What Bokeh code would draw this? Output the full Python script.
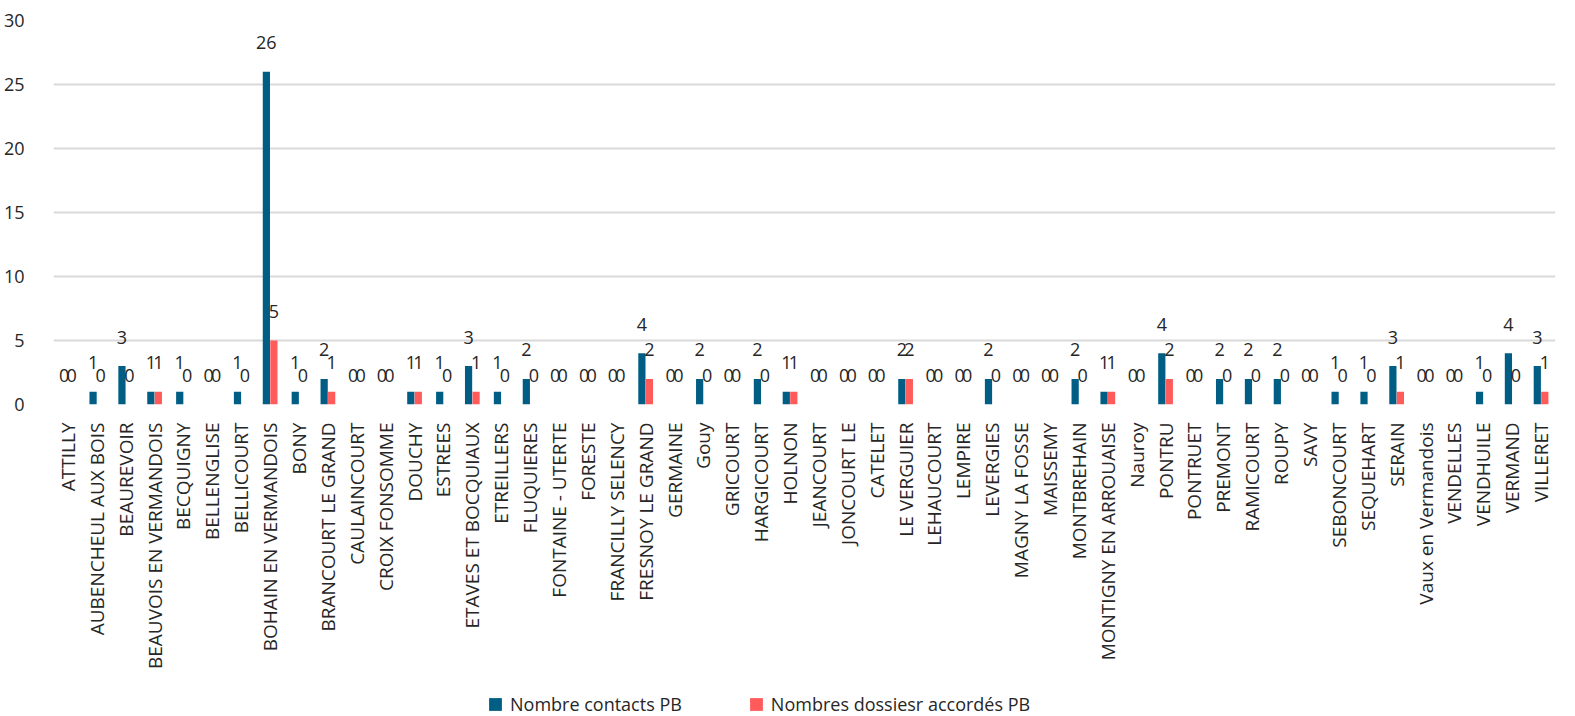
import math
from bokeh.plotting import figure
from bokeh.layouts import column
from bokeh.models import (ColumnDataSource, FactorRange, LabelSet, Legend,
                          LegendItem, FixedTicker)
from bokeh.transform import dodge
from bokeh.core.properties import value
from bokeh.embed import file_html
from bokeh.resources import INLINE

communes = [
    "ATTILLY", "AUBENCHEUL AUX BOIS", "BEAUREVOIR", "BEAUVOIS EN VERMANDOIS",
    "BECQUIGNY", "BELLENGLISE", "BELLICOURT", "BOHAIN EN VERMANDOIS", "BONY",
    "BRANCOURT LE GRAND", "CAULAINCOURT", "CROIX FONSOMME", "DOUCHY", "ESTREES",
    "ETAVES ET BOCQUIAUX", "ETREILLERS", "FLUQUIERES", "FONTAINE - UTERTE",
    "FORESTE", "FRANCILLY SELENCY", "FRESNOY LE GRAND", "GERMAINE", "Gouy",
    "GRICOURT", "HARGICOURT", "HOLNON", "JEANCOURT", "JONCOURT LE", "CATELET",
    "LE VERGUIER", "LEHAUCOURT", "LEMPIRE", "LEVERGIES", "MAGNY LA FOSSE",
    "MAISSEMY", "MONTBREHAIN", "MONTIGNY EN ARROUAISE", "Nauroy", "PONTRU",
    "PONTRUET", "PREMONT", "RAMICOURT", "ROUPY", "SAVY", "SEBONCOURT",
    "SEQUEHART", "SERAIN", "Vaux en Vermandois", "VENDELLES", "VENDHUILE",
    "VERMAND", "VILLERET",
]
contacts = [0, 1, 3, 1, 1, 0, 1, 26, 1, 2,
            0, 0, 1, 1, 3, 1, 2, 0, 0, 0,
            4, 0, 2, 0, 2, 1, 0, 0, 0, 2,
            0, 0, 2, 0, 0, 2, 1, 0, 4, 0,
            2, 2, 2, 0, 1, 1, 3, 0, 0, 1,
            4, 3]
dossiers = [0, 0, 0, 1, 0, 0, 0, 5, 0, 1,
            0, 0, 1, 0, 1, 0, 0, 0, 0, 0,
            2, 0, 0, 0, 0, 1, 0, 0, 0, 2,
            0, 0, 0, 0, 0, 0, 1, 0, 2, 0,
            0, 0, 0, 0, 0, 0, 1, 0, 0, 0,
            0, 1]
series_names = ["Nombre contacts PB", "Nombres dossiesr accordés PB"]
y_ticks = [0, 5, 10, 15, 20, 25, 30]

BLUE = "#005E85"
RED = "#FF5B5B"
TEXT = "#262626"
FONT = "Open Sans"

src = ColumnDataSource(dict(
    commune=communes,
    contacts=contacts,
    dossiers=dossiers,
    contacts_lbl=[str(v) for v in contacts],
    dossiers_lbl=[str(v) for v in dossiers],
))

p = figure(width=1559, height=688,
           x_range=FactorRange(*communes, range_padding=0),
           y_range=(0, 30),
           output_backend="svg", toolbar_location=None,
           min_border_top=20, min_border_left=46, min_border_right=4,
           min_border_bottom=284)
p.outline_line_color = None
p.background_fill_color = "white"

off = 0.13
r1 = p.vbar(x=dodge("commune", -off, range=p.x_range), top="contacts",
            width=0.25, source=src, fill_color=BLUE, line_color=None)
r2 = p.vbar(x=dodge("commune", off, range=p.x_range), top="dossiers",
            width=0.25, source=src, fill_color=RED, line_color=None)

for col, lbl, dx in (("contacts", "contacts_lbl", -off), ("dossiers", "dossiers_lbl", off)):
    ls = LabelSet(x=dodge("commune", dx, range=p.x_range), y=col, text=lbl,
                  source=src, y_offset=29, text_align="center",
                  text_baseline="middle", text_font=value(FONT),
                  text_font_size=value("18px"), text_color=TEXT)
    p.add_layout(ls)

# axes
p.yaxis.ticker = FixedTicker(ticks=y_ticks)
p.yaxis.axis_line_color = None
p.yaxis.major_tick_line_color = None
p.yaxis.minor_tick_line_color = None
p.yaxis.major_label_standoff = 23
p.yaxis.major_label_text_font = FONT
p.yaxis.major_label_text_font_size = "18px"
p.yaxis.major_label_text_color = TEXT

p.xaxis.axis_line_color = None
p.xaxis.major_tick_line_color = None
p.xaxis.major_label_orientation = math.pi / 2
p.xaxis.major_label_standoff = 12
p.xaxis.major_label_text_font = FONT
p.xaxis.major_label_text_font_size = "19px"
p.xaxis.major_label_text_color = TEXT

p.xgrid.grid_line_color = None
p.ygrid.grid_line_color = "#D9D9D9"
p.ygrid.grid_line_width = 2

# legend strip underneath the chart (hidden proxy renderers carry the colours)
lg = figure(width=1559, height=28, x_range=p.x_range, y_range=(0, 30),
            output_backend="svg", toolbar_location=None,
            x_axis_type=None, y_axis_type=None,
            min_border=0)
lg.outline_line_color = None
lg.grid.grid_line_color = None
k1 = lg.rect(x=dodge("commune", -off, range=lg.x_range), y="contacts",
             width=0.25, height=1, source=src, fill_color=BLUE,
             line_color=None, visible=False)
k2 = lg.rect(x=dodge("commune", off, range=lg.x_range), y="dossiers",
             width=0.25, height=1, source=src, fill_color=RED,
             line_color=None, visible=False)
legend = Legend(items=[LegendItem(label=series_names[0], renderers=[k1]),
                       LegendItem(label=series_names[1], renderers=[k2])],
                orientation="horizontal", location=(434, 0),
                padding=0, margin=0, spacing=66, label_standoff=7,
                glyph_width=16, glyph_height=16,
                label_text_font=FONT, label_text_font_size="18px",
                label_text_color=TEXT,
                border_line_color=None, background_fill_alpha=0)
lg.add_layout(legend)

open("out.html", "w").write(file_html(column(p, lg, spacing=0), INLINE))
